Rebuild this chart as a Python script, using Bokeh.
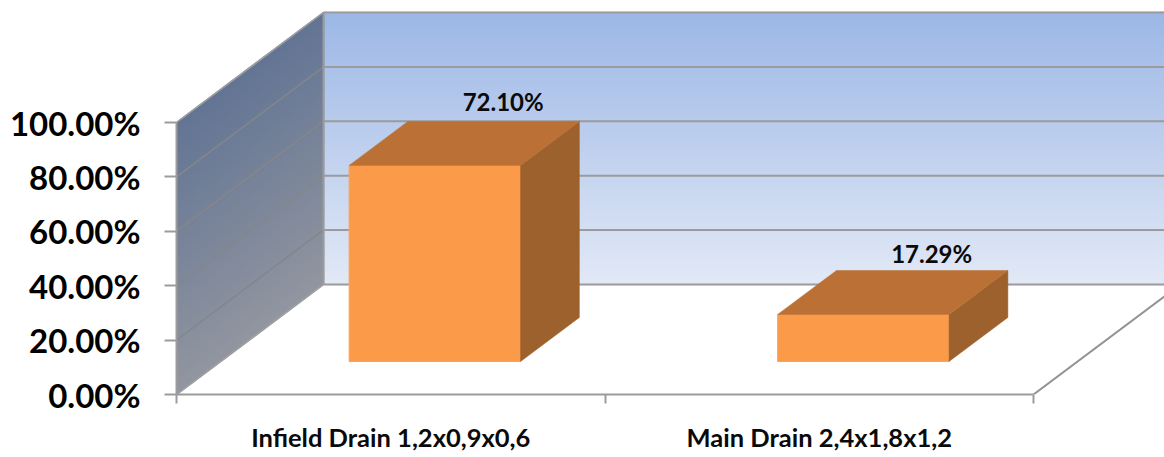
from bokeh.plotting import figure
from bokeh.embed import file_html
from bokeh.resources import INLINE
from bokeh.models import Range1d, FixedTicker, ColumnDataSource
from bokeh.core.properties import value

categories = ["Infield Drain 1,2x0,9x0,6", "Main Drain 2,4x1,8x1,2"]
shares = [72.10, 17.29]
share_labels = ["72.10%", "17.29%"]
y_ticks = [0, 20, 40, 60, 80, 100]
y_tick_labels = ["0.00%", "20.00%", "40.00%", "60.00%", "80.00%", "100.00%"]

FONT = "Lato"
PX_X = 428.5   # px per category
PX_Y = 2.72    # px per percent
DX = 147 / PX_X   # full depth in category units
DY = 110 / PX_Y   # full depth in percent units
D_FRONT, D_BACK = 0.30, 0.70
BAR_W = 0.40
X_END = 2.31


def px(x, y, d):
    return x + d * DX, y + d * DY


def lerp(c0, c1, t):
    return "#%02x%02x%02x" % tuple(round(a + (b - a) * t) for a, b in zip(c0, c1))


p = figure(width=1164, height=457, output_backend="svg", toolbar_location=None,
           x_range=Range1d(0, (1164 - 176) / PX_X), y_range=Range1d(0, 394 / PX_Y),
           min_border_left=176, min_border_right=0, min_border_top=0, min_border_bottom=63,
           outline_line_color=None, background_fill_color="white")
p.grid.visible = False

# back wall gradient
BW_TOP, BW_BOT = (0x9c, 0xb7, 0xe6), (0xe2, 0xe9, 0xf6)
LW_TOP, LW_BOT = (0x63, 0x75, 0x94), (0x92, 0x96, 0xa0)
STEP = 1
bx, by, bc, lx, ly, lc = [], [], [], [], [], []
for i in range(0, 100, STEP):
    t = 1 - (i + STEP / 2) / 100
    x0, y0 = px(0, i, 1)
    x1, y1 = px(X_END, i + STEP, 1)
    bx.append([x0, x1, x1, x0])
    by.append([y0, y0, y1, y1])
    bc.append(lerp(BW_TOP, BW_BOT, t))
    a = px(0, i, 0)
    b = px(0, i, 1)
    c = px(0, i + STEP, 1)
    d = px(0, i + STEP, 0)
    lx.append([a[0], b[0], c[0], d[0]])
    ly.append([a[1], b[1], c[1], d[1]])
    lc.append(lerp(LW_TOP, LW_BOT, t))
p.patches(bx, by, fill_color=bc, line_color=bc, line_width=1.5)
p.patches(lx, ly, fill_color=lc, line_color=lc, line_width=1.5)

# gridlines on back wall and on side wall
for t in y_ticks:
    x0, y0 = px(0, t, 1)
    p.line([x0, X_END + DX], [y0, y0], line_color="#9b9b9b", line_width=2)
    if 0 < t < 100:
        a = px(0, t, 0)
        p.line([a[0], x0], [a[1], y0], line_color="#85868a", line_width=1.5)

# outlines
edge = "#a0a0a0"
a, b = px(0, 0, 0), px(0, 0, 1)
p.line([a[0], b[0]], [a[1], b[1]], line_color=edge, line_width=1.5)
a, b = px(0, 100, 0), px(0, 100, 1)
p.line([a[0], b[0]], [a[1], b[1]], line_color=edge, line_width=1.5)
a, b = px(0, 0, 1), px(0, 100, 1)
p.line([a[0], b[0]], [a[1], b[1]], line_color="#9b9b9b", line_width=2)
a, b = px(2, 0, 0), px(2, 0, 1)
p.line([a[0], b[0]], [a[1], b[1]], line_color="#929292", line_width=2)

# bars
for i, v in enumerate(shares):
    xl, xr = i + 0.5 - BAR_W / 2, i + 0.5 + BAR_W / 2
    f0, f1 = px(xl, 0, D_FRONT), px(xr, v, D_FRONT)
    b0, b1 = px(xl, 0, D_BACK), px(xr, v, D_BACK)
    p.patch([f0[0], f1[0], f1[0], f0[0]], [f0[1], f0[1], f1[1], f1[1]],
            fill_color="#fb9a49", line_color="#fba35a", line_width=1)
    p.patch([f1[0], b1[0], b1[0], f1[0]], [f1[1], b1[1], b0[1], f0[1]],
            fill_color="#9c612c", line_color="#9c612c", line_width=0.5)
    p.patch([f0[0], b0[0], b1[0], f1[0]], [f1[1], b1[1], b1[1], f1[1]],
            fill_color="#bb7135", line_color="#bb7135", line_width=0.5)

# data labels, anchored at the back top edge of each bar
lab_x = [px(i + 0.5, 0, D_BACK)[0] for i in range(len(shares))]
lab_y = [px(0, v, D_BACK)[1] for v in shares]
src = ColumnDataSource(dict(x=lab_x, y=lab_y, t=share_labels, yo=[-20, -16.5]))
p.text("x", "y", text="t", source=src, x_offset=9.5, y_offset="yo",
       text_font=value(FONT), text_font_style="bold", text_font_size="24px",
       text_color="#0a0a0a", text_align="center", text_baseline="middle")

# axes
ya = p.yaxis[0]
ya.ticker = FixedTicker(ticks=y_ticks)
ya.major_label_overrides = dict(zip(y_ticks, y_tick_labels))
ya.bounds = (0, 100)
ya.axis_line_color = "#9b9b9b"
ya.axis_line_width = 2
ya.major_tick_line_color = "#9b9b9b"
ya.major_tick_line_width = 2
ya.major_tick_in = 0
ya.major_tick_out = 12
ya.minor_tick_line_color = None
ya.major_label_standoff = 24
ya.major_label_text_font = FONT
ya.major_label_text_font_style = "bold"
ya.major_label_text_font_size = "33px"
ya.major_label_text_color = "#000000"

xa = p.xaxis[0]
xa.ticker = FixedTicker(ticks=[0.5, 1.5], minor_ticks=[0, 1, 2])
xa.major_label_overrides = {0.5: categories[0], 1.5: categories[1]}
xa.bounds = (0, 2)
xa.axis_line_color = "#9b9b9b"
xa.axis_line_width = 2
xa.major_tick_line_color = None
xa.major_tick_in = 0
xa.major_tick_out = 0
xa.minor_tick_line_color = "#9b9b9b"
xa.minor_tick_line_width = 2
xa.minor_tick_in = 0
xa.minor_tick_out = 9
xa.major_label_standoff = 18
xa.major_label_text_font = FONT
xa.major_label_text_font_style = "bold"
xa.major_label_text_font_size = "25.5px"
xa.major_label_text_color = "#0a0a0a"

open("out.html", "w").write(file_html(p, INLINE))
